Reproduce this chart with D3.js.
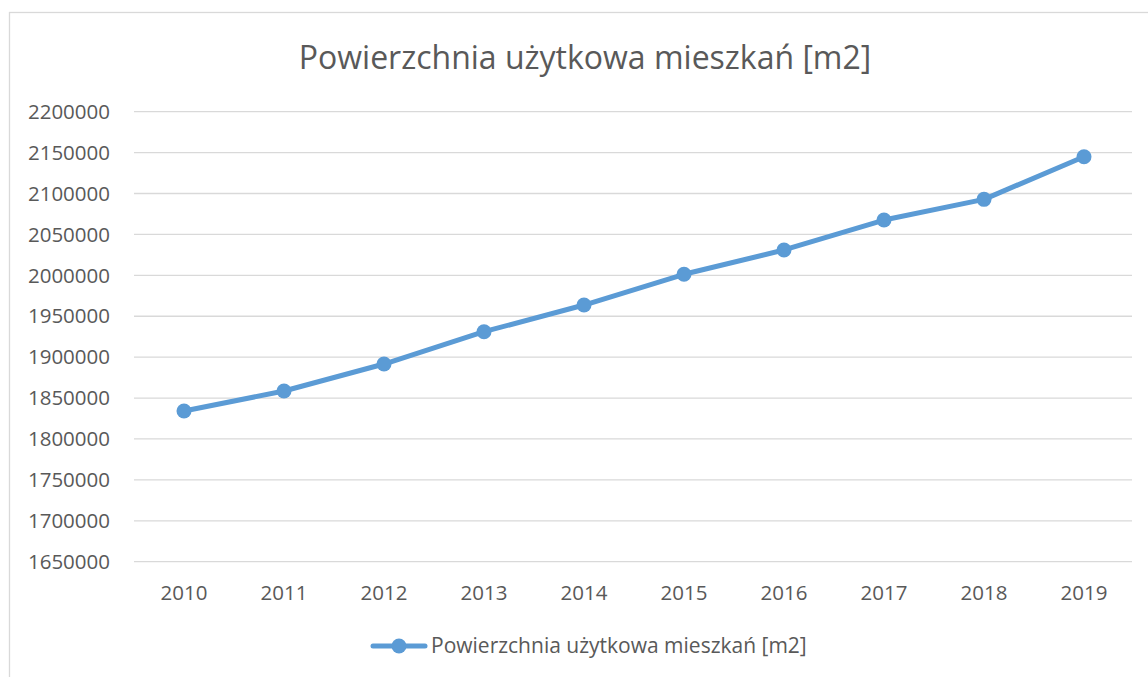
<!DOCTYPE html>
<html>
<head>
<meta charset="utf-8">
<script src="https://cdn.jsdelivr.net/npm/d3@7"></script>
<style>
  body { margin: 0; background: #fff; }
  text { font-family: "Open Sans", "Noto Sans", sans-serif; fill: #595959; }
</style>
</head>
<body>
<div id="chart"></div>
<script>
// data
var years = ["2010", "2011", "2012", "2013", "2014", "2015", "2016", "2017", "2018", "2019"];
var values = [1834200, 1858600, 1891600, 1931100, 1963700, 2001300, 2031000, 2067600, 2092900, 2145000];
var yTicks = [1650000, 1700000, 1750000, 1800000, 1850000, 1900000, 1950000, 2000000, 2050000, 2100000, 2150000, 2200000];
var seriesName = "Powierzchnia użytkowa mieszkań [m2]";

var width = 1148, height = 677;
var margin = {top: 112, right: 14, bottom: 115, left: 134};
var blue = "#5B9BD5";

var svg = d3.select("#chart").append("svg")
  .attr("width", width)
  .attr("height", height);

// chart frame (runs off the right and bottom edges)
svg.append("rect")
  .attr("x", 9.5).attr("y", 12.5)
  .attr("width", 1200).attr("height", 700)
  .attr("fill", "none")
  .attr("stroke", "#d9d9d9")
  .attr("stroke-width", 1.3);

var x = d3.scaleBand()
  .domain(years)
  .range([margin.left, margin.left + 1000]);

var y = d3.scaleLinear()
  .domain([1650000, 2200000])
  .range([561.7, 111.7]);

// gridlines
svg.append("g")
  .selectAll("line")
  .data(yTicks)
  .enter()
  .append("line")
    .attr("x1", margin.left)
    .attr("x2", margin.left + 998)
    .attr("y1", function(d){ return y(d) })
    .attr("y2", function(d){ return y(d) })
    .attr("stroke", "#d9d9d9")
    .attr("stroke-width", 1.3);

// y axis labels
svg.append("g")
  .selectAll("text")
  .data(yTicks)
  .enter()
  .append("text")
    .attr("x", 110)
    .attr("y", function(d){ return y(d) })
    .attr("dy", "0.35em")
    .attr("text-anchor", "end")
    .style("font-size", "20.5px")
    .text(function(d){ return d });

// x axis labels
svg.append("g")
  .selectAll("text")
  .data(years)
  .enter()
  .append("text")
    .attr("x", function(d){ return x(d) + x.bandwidth()/2 })
    .attr("y", 593)
    .attr("dy", "0.35em")
    .attr("text-anchor", "middle")
    .style("font-size", "20.5px")
    .text(function(d){ return d });

// title
svg.append("text")
  .attr("x", 585)
  .attr("y", 58)
  .attr("dy", "0.35em")
  .attr("text-anchor", "middle")
  .style("font-size", "32px")
  .text(seriesName);

// line + markers
var line = d3.line()
  .x(function(d, i){ return x(years[i]) + x.bandwidth()/2 })
  .y(function(d){ return y(d) });

svg.append("path")
  .datum(values)
  .attr("d", line)
  .attr("fill", "none")
  .attr("stroke", blue)
  .attr("stroke-width", 5)
  .attr("stroke-linecap", "round")
  .attr("stroke-linejoin", "round");

svg.append("g")
  .selectAll("circle")
  .data(values)
  .enter()
  .append("circle")
    .attr("cx", function(d, i){ return x(years[i]) + x.bandwidth()/2 })
    .attr("cy", function(d){ return y(d) })
    .attr("r", 7.5)
    .attr("fill", blue);

// legend
var lg = svg.append("g");
lg.append("line")
  .attr("x1", 373).attr("x2", 425)
  .attr("y1", 646).attr("y2", 646)
  .attr("stroke", blue)
  .attr("stroke-width", 5)
  .attr("stroke-linecap", "round");
lg.append("circle")
  .attr("cx", 399).attr("cy", 646).attr("r", 7.5)
  .attr("fill", blue);
lg.append("text")
  .attr("x", 431)
  .attr("y", 646)
  .attr("dy", "0.35em")
  .style("font-size", "21px")
  .text(seriesName);
</script>
</body>
</html>
